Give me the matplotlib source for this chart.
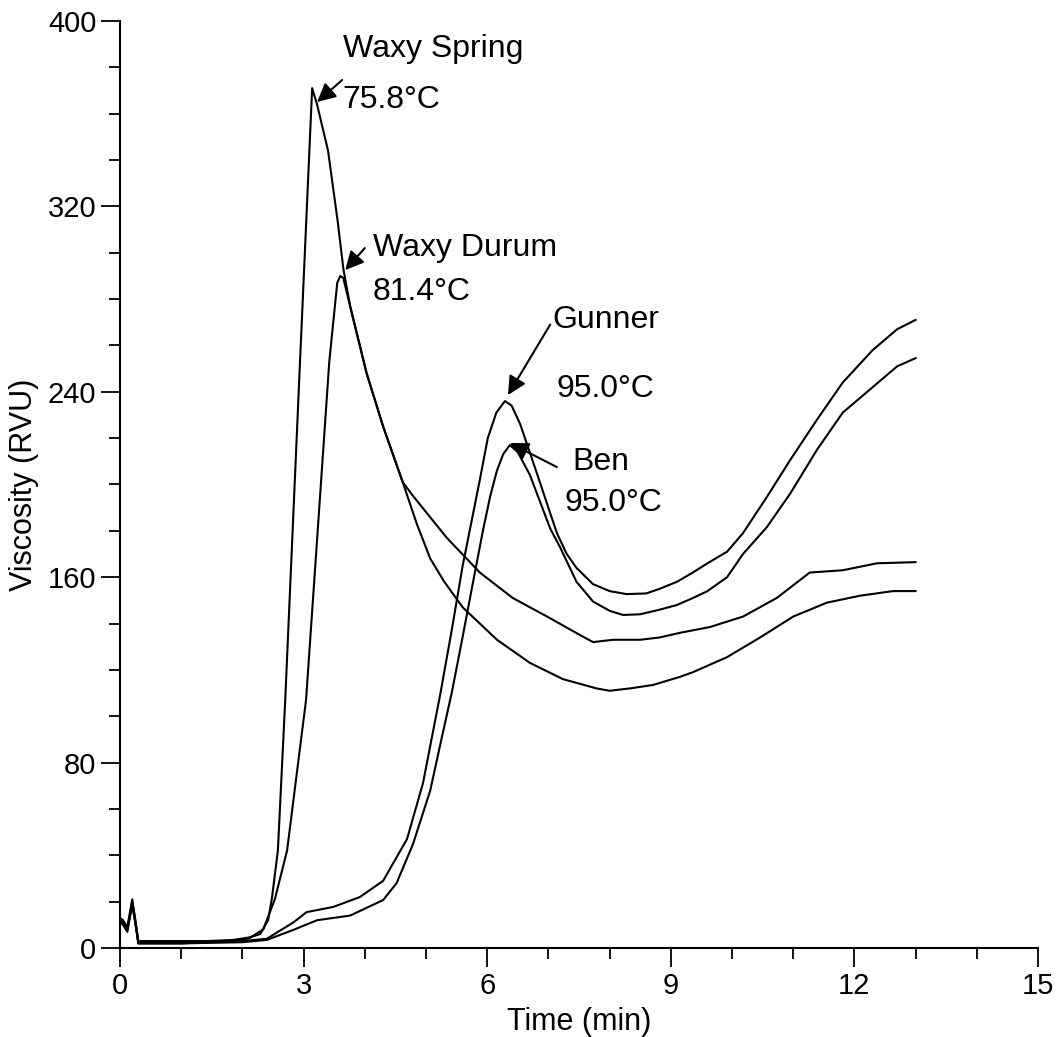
import numpy as np
import matplotlib.pyplot as plt
from matplotlib.ticker import MultipleLocator

# Viscosity traces (time in min, viscosity in RVU)
ws_t = [0.0, 0.05, 0.12, 0.2, 0.25, 0.3, 1.0, 1.85, 2.1, 2.29, 2.42, 2.48, 2.58, 2.7, 2.94,
        3.14, 3.22, 3.4, 3.56, 3.65, 3.76, 4.03, 4.3, 4.62, 4.85, 5.07, 5.3, 5.6, 6.16,
        6.7, 7.24, 7.79, 8.0, 8.33, 8.71, 9.15, 9.36, 9.92, 10.46, 11.0, 11.55, 12.09,
        12.63, 13.0]
ws_v = [12, 11, 8, 20, 12, 2.5, 2.5, 3.5, 4.5, 6, 12, 21, 42, 107, 252,
        371, 364, 344, 313, 293, 277, 248, 225, 201, 183, 168, 158, 147, 133,
        123, 116, 112, 111, 112, 113.5, 117, 119, 125.5, 134, 143, 149, 152,
        154, 154]

wd_t = [0.0, 0.05, 0.12, 0.2, 0.25, 0.3, 1.0, 1.85, 2.1, 2.34, 2.53, 2.73, 3.04, 3.22,
        3.42, 3.55, 3.6, 3.65, 3.76, 4.03, 4.3, 4.62, 4.79, 5.34, 5.88, 6.42, 6.98, 7.52,
        7.73, 8.06, 8.5, 8.82, 9.15, 9.64, 10.18, 10.73, 11.27, 11.81, 12.37, 13.0]
wd_v = [11, 10, 7, 19, 11, 2, 2, 3, 4, 8, 21, 42, 107, 176,
        253, 287, 290, 289, 277, 248, 225, 201, 195, 177, 162, 151, 143, 135,
        132, 133, 133, 134, 136, 138.5, 143, 151, 162, 163, 166, 166.5]

gu_t = [0.0, 0.05, 0.12, 0.2, 0.25, 0.3, 1.0, 2.0, 2.4, 2.83, 3.05, 3.48, 3.92, 4.3,
        4.69, 4.95, 5.23, 5.42, 5.6, 5.88, 6.01, 6.15, 6.29, 6.4, 6.54, 6.81, 7.0, 7.14,
        7.3, 7.46, 7.73, 8.0, 8.28, 8.6, 8.82, 9.1, 9.36, 9.6, 9.92, 10.18, 10.57, 10.95,
        11.39, 11.81, 12.3, 12.7, 13.0]
gu_v = [13, 12, 9, 21, 12, 3, 3, 3, 4, 11, 15.5, 17.7, 22, 29,
        47, 71, 109, 137, 165, 202, 220, 231, 236, 234, 226, 205, 190, 179,
        170, 164, 157, 154, 152.7, 153, 155, 158, 162, 166, 171, 179, 194.6, 210.5,
        228, 244, 258, 267, 271]

be_t = [0.0, 0.05, 0.12, 0.2, 0.25, 0.3, 1.0, 2.0, 2.4, 2.83, 3.22, 3.76, 4.3, 4.52,
        4.79, 5.07, 5.26, 5.42, 5.59, 5.77, 5.93, 6.05, 6.16, 6.26, 6.37, 6.5, 6.7, 7.03,
        7.19, 7.46, 7.73, 8.0, 8.22, 8.5, 8.82, 9.1, 9.36, 9.6, 9.92, 10.18, 10.57, 10.95,
        11.39, 11.81, 12.3, 12.7, 13.0]
be_v = [12, 11, 8, 19, 11, 2, 2, 2.5, 3.5, 7.8, 12, 14, 20.7, 28,
        45, 68, 91, 110, 133, 158, 180, 195, 206, 213, 217, 214, 204, 181,
        173, 158, 149.5, 145.5, 143.7, 144, 146, 148, 151, 154, 160, 170, 181.6, 196,
        215, 231, 242, 251, 254.5]

plt.rcParams['font.family'] = ['Liberation Sans', 'DejaVu Sans']

fig = plt.figure(figsize=(10.6, 10.37), dpi=100)
ax = fig.add_axes([0.1132, 0.0858, 0.866, 0.894])

for t, v in [(ws_t, ws_v), (wd_t, wd_v), (gu_t, gu_v), (be_t, be_v)]:
    ax.plot(t, v, color='black', lw=1.5, solid_joinstyle='round')

ax.set_xlim(0, 15)
ax.set_ylim(0, 400)
ax.xaxis.set_major_locator(MultipleLocator(3))
ax.xaxis.set_minor_locator(MultipleLocator(1))
ax.yaxis.set_major_locator(MultipleLocator(80))
ax.yaxis.set_minor_locator(MultipleLocator(20))
ax.tick_params(which='major', length=14, width=1.3, labelsize=21, pad=3)
ax.tick_params(which='minor', length=8, width=1.3)
for s in ['top', 'right']:
    ax.spines[s].set_visible(False)
for s in ['left', 'bottom']:
    ax.spines[s].set_linewidth(1.5)

ax.set_xlabel('Time (min)', fontsize=22, labelpad=5)
ax.set_ylabel('Viscosity (RVU)', fontsize=22, labelpad=6)

arrow = dict(arrowstyle='-|>', color='black', lw=1.5, mutation_scale=28, shrinkA=0, shrinkB=0)
txt = dict(fontsize=23, va='center', ha='left')

ax.annotate('', xy=(3.22, 365), xytext=(3.63, 374.5), arrowprops=arrow)
ax.text(3.64, 388, 'Waxy Spring', **txt)
ax.text(3.64, 366, '75.8°C', **txt)

ax.annotate('', xy=(3.68, 292.5), xytext=(4.0, 302), arrowprops=arrow)
ax.text(4.13, 302, 'Waxy Durum', **txt)
ax.text(4.13, 283, '81.4°C', **txt)

ax.annotate('', xy=(6.34, 238.6), xytext=(7.03, 269), arrowprops=arrow)
ax.text(7.06, 271, 'Gunner', **txt)
ax.text(7.14, 241, '95.0°C', **txt)

ax.annotate('', xy=(6.37, 217.9), xytext=(7.14, 207.5), arrowprops=arrow)
ax.text(7.39, 209.7, 'Ben', **txt)
ax.text(7.27, 192, '95.0°C', **txt)

fig.savefig('out.png', dpi=100)
